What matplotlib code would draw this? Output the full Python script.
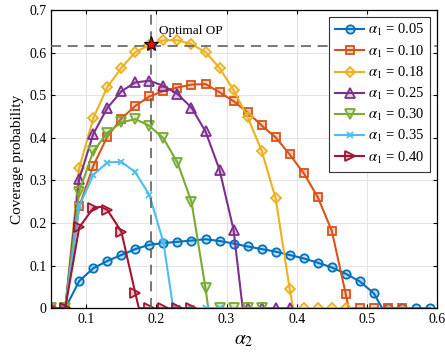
import numpy as np
import matplotlib
matplotlib.use('Agg')
import matplotlib.pyplot as plt

plt.rcParams['font.family'] = ['Liberation Serif', 'DejaVu Serif']
plt.rcParams['mathtext.fontset'] = 'stix'

# coverage probability vs alpha_2, one curve per alpha_1 (markers every 0.02)
alpha1_values = ['0.05', '0.10', '0.18', '0.25', '0.30', '0.35', '0.40']

cov_005 = [0, 0, 0.064, 0.094, 0.111, 0.125, 0.139, 0.149, 0.153, 0.156,
           0.159, 0.162, 0.158, 0.152, 0.145, 0.139, 0.133, 0.125, 0.117,
           0.107, 0.096, 0.081, 0.063, 0.035, 0, 0, 0, 0]
cov_010 = [0, 0, 0.239, 0.334, 0.403, 0.445, 0.475, 0.497, 0.510, 0.518,
           0.525, 0.526, 0.507, 0.486, 0.460, 0.429, 0.401, 0.361, 0.317,
           0.261, 0.182, 0.033, 0, 0, 0, 0]
cov_018 = [0, 0, 0.329, 0.446, 0.519, 0.564, 0.601, 0.618, 0.629, 0.629,
           0.620, 0.601, 0.564, 0.512, 0.449, 0.370, 0.258, 0.045, 0, 0, 0, 0]
cov_025 = [0, 0, 0.303, 0.409, 0.470, 0.509, 0.530, 0.534, 0.522, 0.503,
           0.471, 0.415, 0.325, 0.184, 0, 0, 0, 0]
cov_030 = [0, 0, 0.274, 0.368, 0.412, 0.436, 0.444, 0.428, 0.399, 0.342,
           0.250, 0.047, 0, 0, 0, 0]
cov_035 = [0, 0, 0.240, 0.313, 0.342, 0.344, 0.319, 0.266, 0.155, 0, 0, 0, 0]
cov_040 = [0, 0, 0.190, 0.235, 0.231, 0.180, 0.035, 0, 0, 0, 0]

# extra (unmarked) points where the curves bend or hit zero
knee_x = [[0.522], [0.474], [0.395], [0.323], [0.274], [0.224], [0.12, 0.175]]
knee_y = [[0.0], [0.0], [0.0], [0.0], [0.0], [0.0], [0.238, 0.0]]

curves = [cov_005, cov_010, cov_018, cov_025, cov_030, cov_035, cov_040]

opt_alpha2 = 0.193
opt_cov = 0.62
opt_hline = 0.615

colors = ['#0072BD', '#D95319', '#EDB120', '#7E2F8E', '#77AC30', '#4DBEEE', '#A2142F']
markers = ['o', 's', 'D', '^', 'v', 'x', '>']
msizes = [6, 5.5, 5.5, 7, 7, 4.5, 7]

fig = plt.figure(figsize=(4.45, 3.56), dpi=100)
ax = fig.add_axes([0.115, 0.134, 0.867, 0.838])

for i, y in enumerate(curves):
    xm = 0.05 + 0.02 * np.arange(len(y))
    xs = np.concatenate([xm, knee_x[i]])
    ys = np.concatenate([y, knee_y[i]])
    is_marker = np.concatenate([np.ones(len(y), bool), np.zeros(len(knee_x[i]), bool)])
    order = np.argsort(xs, kind='stable')
    c = colors[i]
    face = matplotlib.colors.to_rgba(c, 0.25)
    ax.plot(xs[order], ys[order], color=c, lw=1.5, marker=markers[i],
            markersize=msizes[i], markerfacecolor=face, markeredgecolor=c,
            markeredgewidth=1.3, markevery=list(is_marker[order]),
            label=r'$\alpha_1$ = ' + alpha1_values[i], zorder=2)

ax.axhline(opt_hline, color='#606060', ls=(0, (6, 4)), lw=1.2, zorder=3)
ax.axvline(opt_alpha2, color='#606060', ls=(0, (6, 4)), lw=1.2, zorder=3)
ax.plot(opt_alpha2, opt_cov, marker='*', color='red', markeredgecolor='black',
        markersize=11, markeredgewidth=0.8, zorder=5)
ax.text(opt_alpha2 + 0.01, 0.651, 'Optimal OP', fontsize=9.5, va='center', ha='left')

ax.set_xlim(0.05, 0.6)
ax.set_ylim(0, 0.7)
ax.set_xticks([0.1, 0.2, 0.3, 0.4, 0.5, 0.6])
ax.set_xticklabels(['0.1', '0.2', '0.3', '0.4', '0.5', '0.6'])
ax.set_yticks([0, 0.1, 0.2, 0.3, 0.4, 0.5, 0.6, 0.7])
ax.set_yticklabels(['0', '0.1', '0.2', '0.3', '0.4', '0.5', '0.6', '0.7'])
ax.tick_params(direction='in', top=True, right=True, labelsize=10, length=3, width=0.8)
ax.grid(True, color='#e3e3e3', lw=0.7)
ax.set_axisbelow(True)
for s in ax.spines.values():
    s.set_linewidth(0.9)

ax.set_xlabel(r'$\alpha_2$', fontsize=14, labelpad=4)
ax.set_ylabel('Coverage probability', fontsize=11)

leg = ax.legend(loc='upper right', fontsize=10.5, fancybox=False, framealpha=1,
                edgecolor='#333333', handlelength=2.0, borderaxespad=0.45,
                labelspacing=0.35, borderpad=0.4, handletextpad=0.25)
leg.get_frame().set_linewidth(0.8)
leg.set_zorder(6)

fig.savefig('out.png', dpi=100)
